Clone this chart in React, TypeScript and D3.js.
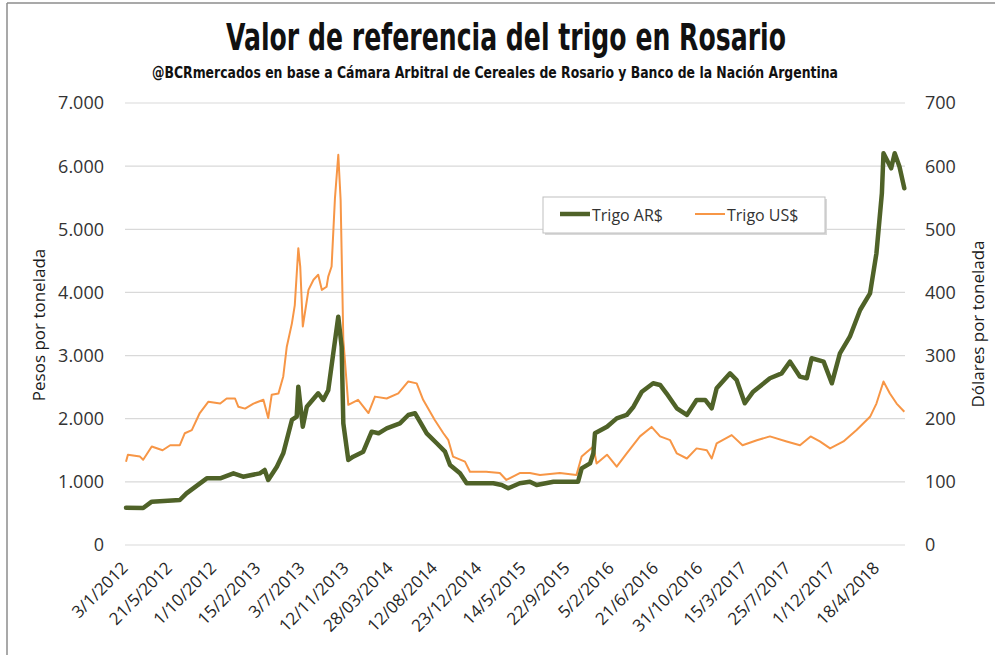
import * as d3 from 'd3'

// x axis tick labels (Excel category axis, every ~95 sessions)
const xLabels = [
  '3/1/2012', '21/5/2012', '1/10/2012', '15/2/2013', '3/7/2013', '12/11/2013',
  '28/03/2014', '12/08/2014', '23/12/2014', '14/5/2015', '22/9/2015', '5/2/2016',
  '21/6/2016', '31/10/2016', '15/3/2017', '25/7/2017', '1/12/2017', '18/4/2018',
]

const leftTicks = [0, 1000, 2000, 3000, 4000, 5000, 6000, 7000]
const rightTicks = [0, 100, 200, 300, 400, 500, 600, 700]

// Trigo AR$ (pesos por tonelada)
const trigoArs: [string, number][] = [
  ['2012-01-03', 590], ['2012-02-26', 586], ['2012-03-24', 686], ['2012-06-19', 713],
  ['2012-07-09', 818], ['2012-09-08', 1056], ['2012-10-19', 1056], ['2012-11-29', 1135],
  ['2012-12-29', 1082], ['2013-02-19', 1135], ['2013-03-06', 1188], ['2013-03-17', 1030],
  ['2013-04-13', 1240], ['2013-05-03', 1452], ['2013-05-30', 1980], ['2013-06-14', 2032],
  ['2013-06-19', 2507], ['2013-07-03', 1874], ['2013-07-15', 2190], ['2013-08-18', 2403],
  ['2013-09-02', 2297], ['2013-09-17', 2450], ['2013-10-02', 3036], ['2013-10-17', 3616],
  ['2013-10-27', 3141], ['2013-11-01', 1927], ['2013-11-16', 1346], ['2013-12-01', 1399],
  ['2014-01-01', 1478], ['2014-01-27', 1795], ['2014-02-17', 1769], ['2014-03-14', 1848],
  ['2014-04-24', 1927], ['2014-05-20', 2059], ['2014-06-10', 2086], ['2014-06-25', 1953],
  ['2014-07-16', 1769], ['2014-08-16', 1611], ['2014-09-10', 1478], ['2014-09-25', 1267],
  ['2014-10-25', 1135], ['2014-11-14', 977], ['2014-12-14', 977], ['2015-02-05', 977],
  ['2015-03-04', 950], ['2015-03-25', 898], ['2015-05-01', 977], ['2015-06-01', 1003],
  ['2015-06-21', 950], ['2015-08-10', 1003], ['2015-09-18', 1003], ['2015-10-23', 1003],
  ['2015-11-03', 1214], ['2015-11-29', 1293], ['2015-12-09', 1452], ['2015-12-14', 1769],
  ['2016-01-20', 1874], ['2016-02-19', 2006], ['2016-03-21', 2059], ['2016-04-11', 2190],
  ['2016-05-07', 2428], ['2016-06-11', 2561], ['2016-07-02', 2534], ['2016-07-21', 2403],
  ['2016-08-21', 2165], ['2016-09-20', 2059], ['2016-10-19', 2297], ['2016-11-14', 2297],
  ['2016-12-04', 2165], ['2016-12-19', 2482], ['2017-01-29', 2719], ['2017-02-18', 2613],
  ['2017-03-15', 2244], ['2017-04-09', 2428], ['2017-05-29', 2640], ['2017-07-03', 2719],
  ['2017-07-28', 2904], ['2017-08-26', 2666], ['2017-09-15', 2640], ['2017-09-29', 2957],
  ['2017-11-03', 2904], ['2017-11-27', 2561], ['2017-12-22', 3036], ['2018-01-22', 3299],
  ['2018-02-23', 3722], ['2018-03-26', 3986], ['2018-04-15', 4620], ['2018-05-02', 5570],
  ['2018-05-07', 6204], ['2018-05-31', 5966], ['2018-06-11', 6204], ['2018-06-26', 5992],
  ['2018-07-11', 5649],
]

// Trigo US$ (dolares por tonelada)
const trigoUsd: [string, number][] = [
  ['2012-01-03', 132], ['2012-01-09', 143], ['2012-02-16', 140], ['2012-02-26', 135],
  ['2012-03-24', 156], ['2012-04-27', 150], ['2012-05-21', 158], ['2012-06-19', 158],
  ['2012-07-04', 177], ['2012-07-25', 182], ['2012-08-18', 209], ['2012-09-13', 227],
  ['2012-10-19', 224], ['2012-11-08', 232], ['2012-12-04', 232], ['2012-12-14', 219],
  ['2013-01-04', 216], ['2013-01-30', 224], ['2013-03-02', 230], ['2013-03-17', 201],
  ['2013-03-28', 238], ['2013-04-18', 240], ['2013-05-03', 267], ['2013-05-14', 314],
  ['2013-05-30', 351], ['2013-06-08', 380], ['2013-06-19', 470], ['2013-06-25', 441],
  ['2013-07-03', 346], ['2013-07-20', 404], ['2013-08-04', 420], ['2013-08-18', 428],
  ['2013-08-29', 404], ['2013-09-12', 409], ['2013-09-17', 425], ['2013-09-27', 441],
  ['2013-10-07', 549], ['2013-10-17', 618], ['2013-10-24', 546], ['2013-11-01', 325],
  ['2013-11-16', 222], ['2013-12-16', 230], ['2014-01-17', 209], ['2014-02-06', 235],
  ['2014-03-14', 232], ['2014-04-19', 240], ['2014-05-20', 259], ['2014-06-15', 256],
  ['2014-07-05', 230], ['2014-08-10', 198], ['2014-09-05', 177], ['2014-09-20', 166],
  ['2014-10-04', 140], ['2014-11-09', 132], ['2014-11-24', 116], ['2015-01-13', 116],
  ['2015-02-26', 114], ['2015-03-19', 103], ['2015-05-01', 114], ['2015-06-01', 114],
  ['2015-07-01', 111], ['2015-08-29', 114], ['2015-10-18', 111], ['2015-11-03', 140],
  ['2015-12-09', 156], ['2015-12-19', 129], ['2016-01-20', 143], ['2016-02-19', 124],
  ['2016-03-21', 145], ['2016-05-01', 172], ['2016-06-06', 187], ['2016-07-02', 172],
  ['2016-08-01', 166], ['2016-08-21', 145], ['2016-09-20', 137], ['2016-10-19', 153],
  ['2016-11-19', 150], ['2016-12-04', 137], ['2016-12-19', 161], ['2017-02-03', 174],
  ['2017-03-08', 158], ['2017-04-20', 166], ['2017-05-29', 172], ['2017-07-18', 164],
  ['2017-08-26', 158], ['2017-09-26', 172], ['2017-10-23', 164], ['2017-11-22', 153],
  ['2018-01-02', 164], ['2018-02-12', 182], ['2018-03-26', 203], ['2018-04-15', 224],
  ['2018-05-07', 259], ['2018-05-27', 240], ['2018-06-17', 224], ['2018-07-11', 211],
]

const W = 995
const H = 655
const plotLeft = 125
const plotRight = 905
const plotTop = 103
const plotBottom = 545
const firstTick = 126
const tickStep = 44.2

const GREEN = '#4f6228'
const ORANGE = '#f79646'
const TEXT = '#333333'
const FONT = '"Open Sans", "DejaVu Sans", sans-serif'
const NARROW = '"Liberation Sans Narrow", "DejaVu Sans Condensed", sans-serif'

const parseLabel = d3.timeParse('%d/%m/%Y')
const parseIso = d3.timeParse('%Y-%m-%d')
const esFormat = d3.formatLocale({ decimal: ',', thousands: '.', grouping: [3], currency: ['$', ''] }).format(',d')

export default function App() {
  const labelDates = xLabels.map(s => parseLabel(s) as Date)

  // category axis: each label date sits on an evenly spaced tick
  const x = d3.scaleTime()
    .domain(labelDates)
    .range(labelDates.map((_, i) => firstTick + i * tickStep))

  const yLeft = d3.scaleLinear().domain([0, 7000]).range([plotBottom, plotTop])
  const yRight = d3.scaleLinear().domain([0, 700]).range([plotBottom, plotTop])

  const arsLine = d3.line<[string, number]>()
    .x(d => x(parseIso(d[0]) as Date))
    .y(d => yLeft(d[1]))
  const usdLine = d3.line<[string, number]>()
    .x(d => x(parseIso(d[0]) as Date))
    .y(d => yRight(d[1]))

  return (
    <div style={{ position: 'absolute', left: 0, top: 0 }}>
      <svg width={W} height={H} style={{ display: 'block', background: '#fff' }}>
        {/* outer frame */}
        <line x1={7} y1={3} x2={7} y2={H} stroke="#8c8c8c" strokeWidth={1.5} />
        <line x1={7} y1={3} x2={W} y2={3} stroke="#8c8c8c" strokeWidth={1.5} />

        <text x={506} y={50} textAnchor="middle" fontFamily={NARROW} fontWeight="bold" fontSize={38}
          textLength={560} lengthAdjust="spacingAndGlyphs" fill="#111">
          Valor de referencia del trigo en Rosario
        </text>
        <text x={495} y={78} textAnchor="middle" fontFamily={NARROW} fontWeight="bold" fontSize={15}
          textLength={686} lengthAdjust="spacingAndGlyphs" fill="#111">
          @BCRmercados en base a Cámara Arbitral de Cereales de Rosario y Banco de la Nación Argentina
        </text>

        {/* gridlines */}
        {leftTicks.map(t => (
          <line key={t} x1={plotLeft} x2={plotRight} y1={yLeft(t)} y2={yLeft(t)} stroke="#d9d9d9" strokeWidth={1.2} />
        ))}

        {/* left axis */}
        {leftTicks.map(t => (
          <text key={t} x={104} y={yLeft(t)} dy="0.36em" textAnchor="end" fontFamily={FONT} fontSize={18} fill={TEXT}>
            {esFormat(t)}
          </text>
        ))}
        <text transform="translate(45,325) rotate(-90)" textAnchor="middle" fontFamily={FONT} fontSize={17} fill="#1a1a1a">
          Pesos por tonelada
        </text>

        {/* right axis */}
        {rightTicks.map(t => (
          <text key={t} x={925} y={yRight(t)} dy="0.36em" textAnchor="start" fontFamily={FONT} fontSize={18} fill={TEXT}>
            {t}
          </text>
        ))}
        <text transform="translate(984,324) rotate(-90)" textAnchor="middle" fontFamily={FONT} fontSize={17} fill="#1a1a1a">
          Dólares por tonelada
        </text>

        {/* x labels */}
        {xLabels.map((s, i) => (
          <text key={s} transform={`translate(${x(labelDates[i]) + 3},569) rotate(-45)`} textAnchor="end"
            fontFamily={FONT} fontSize={17} fill="#262626">
            {s}
          </text>
        ))}

        <path d={usdLine(trigoUsd) ?? ''} fill="none" stroke={ORANGE} strokeWidth={2} strokeLinejoin="round" />
        <path d={arsLine(trigoArs) ?? ''} fill="none" stroke={GREEN} strokeWidth={4.5} strokeLinejoin="round" strokeLinecap="round" />

        {/* legend */}
        <g>
          <rect x={545} y={199} width={282} height={36} fill="#d9d9d9" />
          <rect x={543} y={197} width={282} height={36} fill="#fff" stroke="#bfbfbf" strokeWidth={1} />
          <line x1={560} x2={590} y1={214} y2={214} stroke={GREEN} strokeWidth={4.5} />
          <text x={592} y={215} dy="0.35em" fontFamily={FONT} fontSize={16} fill={TEXT}>Trigo AR$</text>
          <line x1={695} x2={725} y1={214} y2={214} stroke={ORANGE} strokeWidth={2} />
          <text x={727} y={215} dy="0.35em" fontFamily={FONT} fontSize={16} fill={TEXT}>Trigo US$</text>
        </g>
      </svg>
    </div>
  )
}
